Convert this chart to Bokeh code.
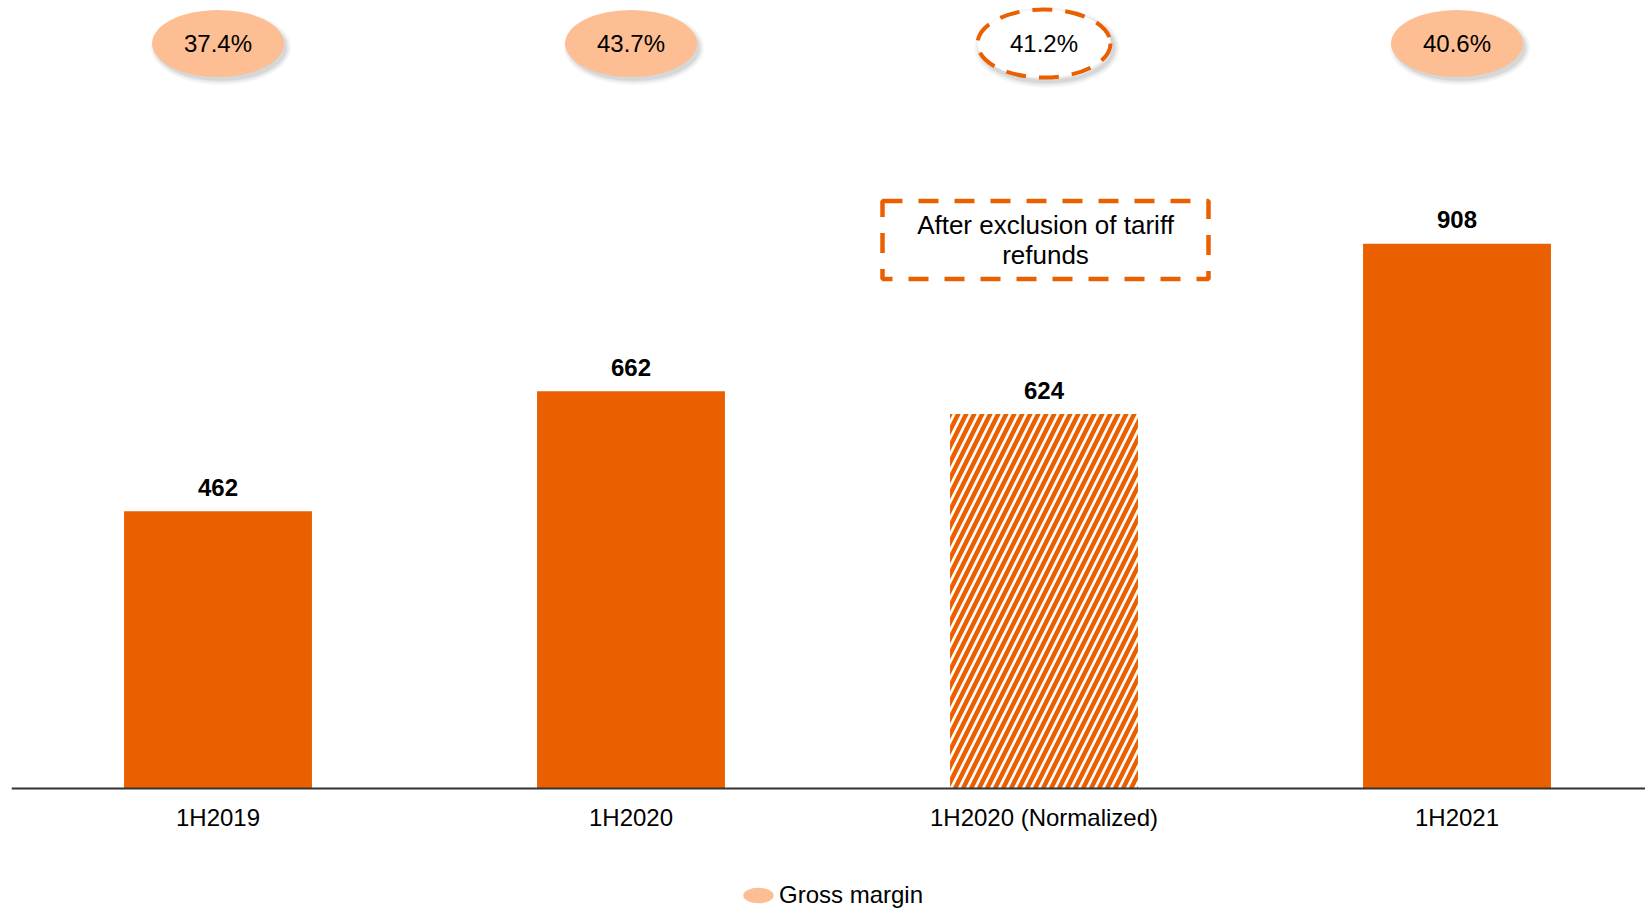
from bokeh.plotting import figure
from bokeh.models import (ColumnDataSource, Range1d, FixedTicker, Legend, LegendItem,
                          CDSView, IndexFilter)
from bokeh.transform import dodge
from bokeh.core.properties import value
from bokeh.embed import file_html
from bokeh.resources import INLINE

# ---------------- data ----------------
categories = ["1H2019", "1H2020", "1H2020 (Normalized)", "1H2021"]
gross_profit = [462, 662, 624, 908]
gross_margin = [37.4, 43.7, 41.2, 40.6]
normalized = [False, False, True, False]
annotation_text = "After exclusion of tariff\nrefunds"
legend_label = "Gross margin"

# ---------------- style / layout ----------------
ORANGE = "#EA6000"
PEACH = "#FCBE92"
FONT = "Liberation Sans"

W, H = 1645, 908
FRAME_LEFT = 11
AXIS_Y = 788                # screen y of the category axis
PX_PER_UNIT = 0.6           # vertical scale
PX_PER_CAT = 413            # horizontal scale
MARGIN_ROW_SCREEN_Y = 43    # centre of the margin ellipses
ANN_SCREEN_Y = 239.5        # centre of the annotation box
EW, EH = 132, 67            # ellipse size (screen px)

x_end = -0.5 + (W - FRAME_LEFT) / PX_PER_CAT
y_start = -(H - AXIS_Y) / PX_PER_UNIT
y_end = AXIS_Y / PX_PER_UNIT
margin_row_y = (AXIS_Y - MARGIN_ROW_SCREEN_Y) / PX_PER_UNIT
ann_y = (AXIS_Y - ANN_SCREEN_Y) / PX_PER_UNIT

idx = list(range(len(categories)))
src = ColumnDataSource(dict(
    x=idx,
    top=gross_profit,
    top_label=[str(v) for v in gross_profit],
    margin_label=[f"{v:.1f}%" for v in gross_margin],
    my=[margin_row_y] * len(idx),
))
solid_view = CDSView(filter=IndexFilter([i for i, n in enumerate(normalized) if not n]))
norm_view = CDSView(filter=IndexFilter([i for i, n in enumerate(normalized) if n]))

p = figure(width=W, height=H, x_range=Range1d(-0.5, x_end), y_range=Range1d(y_start, y_end),
           output_backend="svg", toolbar_location=None, y_axis_location=None,
           min_border_left=FRAME_LEFT, min_border_right=0, min_border_top=0,
           min_border_bottom=0, outline_line_color=None,
           background_fill_color="white", border_fill_color="white")
p.xgrid.visible = False
p.ygrid.visible = False

ax = p.xaxis[0]
ax.fixed_location = 0
ax.ticker = FixedTicker(ticks=idx)
ax.major_label_overrides = {i: c for i, c in zip(idx, categories)}
ax.axis_line_width = 2
ax.axis_line_color = "#333333"
ax.major_tick_line_color = None
ax.minor_tick_line_color = None
ax.major_label_text_font = FONT
ax.major_label_text_font_size = "24px"
ax.major_label_text_color = "black"
ax.major_label_standoff = 9

# bars
p.vbar(x="x", top="top", bottom=0, width=0.455, source=src, view=solid_view,
       fill_color=ORANGE, line_color=None)
p.vbar(x="x", top="top", bottom=0, width=0.455, source=src, view=norm_view,
       fill_color="white", line_color=None, hatch_pattern="/",
       hatch_color=ORANGE, hatch_scale=16, hatch_weight=4.5)

p.text(x="x", y="top", text="top_label", source=src,
       text_font=value(FONT), text_font_style="bold", text_font_size="24px",
       text_align="center", text_baseline="alphabetic", y_offset=-24, text_color="black")

# ellipse shadows
for grow, a in [(8, 0.04), (4, 0.05), (0, 0.07)]:
    p.ellipse(x=dodge("x", 3 / PX_PER_CAT, range=p.x_range),
              y=dodge("my", -4 / PX_PER_UNIT, range=p.y_range),
              width=EW + grow, height=EH + grow, width_units="screen", height_units="screen",
              fill_color="black", fill_alpha=a, line_color=None, source=src, view=solid_view)
    p.ellipse(x=dodge("x", 3 / PX_PER_CAT, range=p.x_range),
              y=dodge("my", -4 / PX_PER_UNIT, range=p.y_range),
              width=EW + 1, height=EH + 1, width_units="screen", height_units="screen",
              fill_color=None, line_color="black", line_alpha=a,
              line_width=4 + grow, source=src, view=norm_view)

margin_r = p.ellipse(x="x", y="my", width=EW, height=EH, width_units="screen",
                     height_units="screen", fill_color=PEACH, line_color=None,
                     source=src, view=solid_view)
p.ellipse(x="x", y="my", width=EW + 1, height=EH + 1, width_units="screen",
          height_units="screen", fill_color="white", line_color=ORANGE, line_width=4,
          line_dash="20 13", source=src, view=norm_view)
p.text(x="x", y="my", text="margin_label", source=src,
       text_font=value(FONT), text_font_size="24px", text_align="center",
       text_baseline="alphabetic", y_offset=0, text_color="black")

# annotation box
ann_x = normalized.index(True)
ann_src = ColumnDataSource(dict(x=[ann_x], y=[ann_y], t=[annotation_text]))
p.rect(x=dodge("x", 1.5 / PX_PER_CAT, range=p.x_range), y="y", width=326, height=78,
       width_units="screen", height_units="screen", fill_color=None, line_color=ORANGE,
       line_width=4.5, line_dash="20 16", source=ann_src)
p.text(x="x", y="y", text="t", text_font=value(FONT),
       text_font_size="26px", text_align="center", text_baseline="middle",
       text_line_height=1.0, x_offset=1.5, text_color="black", source=ann_src)

legend = Legend(items=[LegendItem(label=legend_label, renderers=[margin_r], index=0)],
                location=(728, -6), orientation="horizontal",
                glyph_width=38, glyph_height=38, label_text_font=FONT,
                label_text_font_size="24px", label_text_color="black",
                label_standoff=2, padding=0, margin=0,
                spacing=0, border_line_color=None, background_fill_alpha=0)
p.add_layout(legend)

open("out.html", "w").write(file_html(p, INLINE))
